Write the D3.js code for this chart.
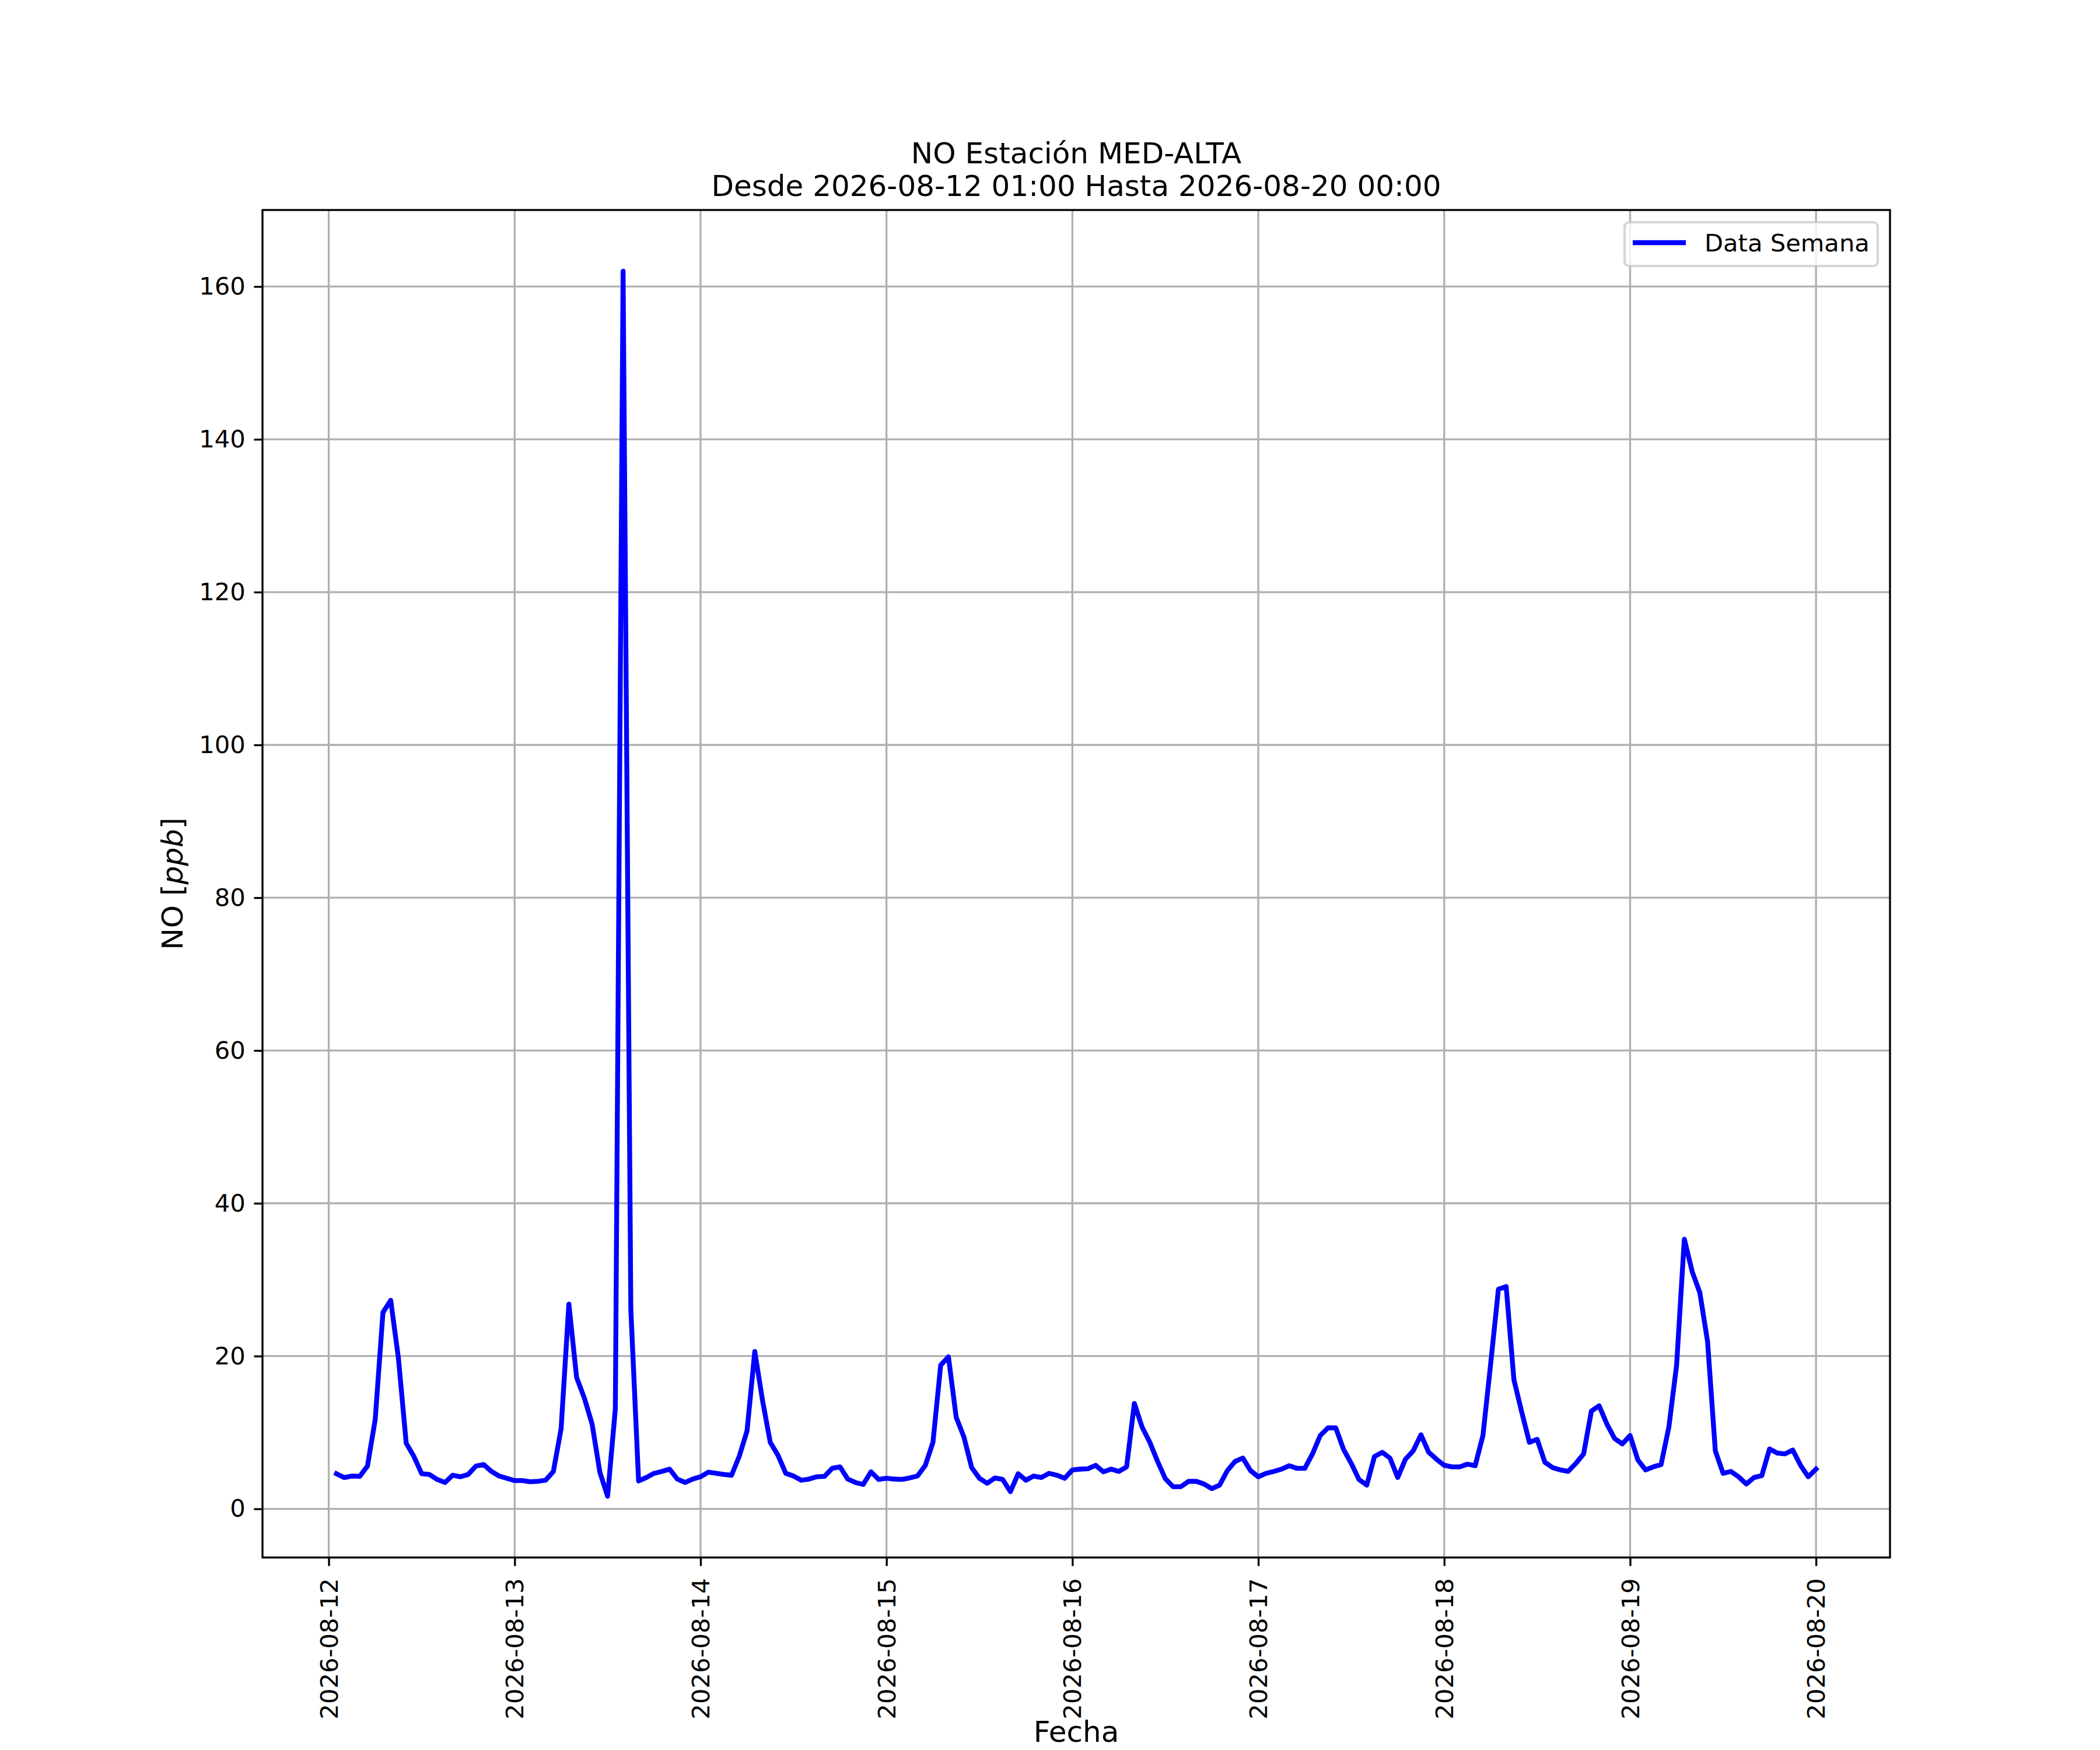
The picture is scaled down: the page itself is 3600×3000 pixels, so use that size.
<!DOCTYPE html>
<html>
<head>
<meta charset="utf-8">
<script src="https://cdn.jsdelivr.net/npm/d3@7"></script>
<style>
  body { margin: 0; background: white; }
  text { font-family: "DejaVu Sans", sans-serif; }
</style>
</head>
<body>
<div id="chart_container"></div>
<script>
// Data: hourly NO values (ppb), first reading 2026-08-12 01:00
var start_time = "2026-08-12T01:00:00Z"
var day_12 = [4.6, 4.1, 4.3, 4.25, 5.6, 11.7, 25.7, 27.3, 19.7, 8.6, 6.85, 4.6, 4.5, 3.85, 3.45, 4.4, 4.2, 4.5, 5.6, 5.8, 4.9, 4.3, 4.0, 3.7]
var day_13 = [3.7, 3.55, 3.6, 3.75, 4.9, 10.5, 26.8, 17.2, 14.5, 11.1, 4.8, 1.65, 13.1, 162.0, 26.1, 3.65, 4.1, 4.65, 4.9, 5.2, 3.9, 3.45, 3.9, 4.2]
var day_14 = [4.8, 4.65, 4.5, 4.4, 6.9, 10.2, 20.6, 14.2, 8.7, 7.0, 4.65, 4.3, 3.75, 3.9, 4.2, 4.25, 5.3, 5.5, 3.9, 3.45, 3.2, 4.85, 3.85, 4.0]
var day_15 = [3.9, 3.85, 4.05, 4.3, 5.65, 8.7, 18.8, 19.9, 12.0, 9.4, 5.4, 4.0, 3.35, 4.05, 3.85, 2.25, 4.6, 3.75, 4.3, 4.1, 4.65, 4.4, 4.0, 5.1]
var day_16 = [5.2, 5.25, 5.7, 4.85, 5.2, 4.9, 5.5, 13.8, 10.7, 8.7, 6.2, 3.95, 2.9, 2.9, 3.6, 3.6, 3.25, 2.65, 3.1, 5.0, 6.2, 6.65, 5.0, 4.2]
var day_17 = [4.65, 4.9, 5.2, 5.65, 5.3, 5.3, 7.2, 9.6, 10.6, 10.6, 7.8, 5.95, 3.85, 3.1, 6.85, 7.4, 6.65, 4.1, 6.5, 7.6, 9.7, 7.4, 6.5, 5.7]
var day_18 = [5.5, 5.5, 5.85, 5.65, 9.6, 19.0, 28.75, 29.1, 16.9, 12.7, 8.7, 9.1, 6.1, 5.4, 5.1, 4.9, 5.95, 7.2, 12.8, 13.5, 11.1, 9.2, 8.5, 9.6]
var day_19 = [6.4, 5.1, 5.5, 5.8, 10.7, 18.8, 35.3, 31.1, 28.3, 21.9, 7.6, 4.65, 4.9, 4.2, 3.25, 4.1, 4.35, 7.85, 7.3, 7.2, 7.7, 5.7, 4.2, 5.2]

var y_ticks = [0, 20, 40, 60, 80, 100, 120, 140, 160]
var title_lines = ["NO Estación MED-ALTA", "Desde 2026-08-12 01:00 Hasta 2026-08-20 00:00"]
var legend_label = "Data Semana"

var y_data = [].concat(day_12, day_13, day_14, day_15, day_16, day_17, day_18, day_19)
var t0 = new Date(start_time)
var x_data = y_data.map(function(d, i) { return d3.utcHour.offset(t0, i) })

// Figure dimensions (12x10 in at 300 dpi)
var width = 3600
var height = 3000
var margin = {top: 360, right: 360, bottom: 330, left: 450}
var plot_w = width - margin.left - margin.right
var plot_h = height - margin.top - margin.bottom
var pt = 300 / 72

// Scales, padded 5% like matplotlib
var x_ext = d3.extent(x_data)
var x_pad = (x_ext[1] - x_ext[0]) * 0.05
var x_scale = d3.scaleUtc()
    .domain([new Date(+x_ext[0] - x_pad), new Date(+x_ext[1] + x_pad)])
    .range([0, plot_w])

var y_ext = d3.extent(y_data)
var y_pad = (y_ext[1] - y_ext[0]) * 0.05
var y_scale = d3.scaleLinear()
    .domain([y_ext[0] - y_pad, y_ext[1] + y_pad])
    .range([plot_h, 0])

var x_ticks = x_scale.ticks(d3.utcDay.every(1))

var svg = d3.select("#chart_container")
    .append("svg")
    .attr("width", width)
    .attr("height", height)
    .style("background-color", "white")

var chart = svg.append("g")
    .attr("transform", "translate(" + margin.left + "," + margin.top + ")")

// Grid
chart.append("g").selectAll("line")
    .data(x_ticks)
    .enter()
    .append("line")
    .attr("x1", function(d) { return x_scale(d) })
    .attr("x2", function(d) { return x_scale(d) })
    .attr("y1", 0)
    .attr("y2", plot_h)
    .attr("stroke", "#b0b0b0")
    .attr("stroke-width", 0.8 * pt)

chart.append("g").selectAll("line")
    .data(y_ticks)
    .enter()
    .append("line")
    .attr("x1", 0)
    .attr("x2", plot_w)
    .attr("y1", function(d) { return y_scale(d) })
    .attr("y2", function(d) { return y_scale(d) })
    .attr("stroke", "#b0b0b0")
    .attr("stroke-width", 0.8 * pt)

// Data line
var line = d3.line()
    .x(function(d, i) { return x_scale(x_data[i]) })
    .y(function(d) { return y_scale(d) })

chart.append("path")
    .datum(y_data)
    .attr("d", line)
    .attr("fill", "none")
    .attr("stroke", "#0000ff")
    .attr("stroke-width", 2 * pt)
    .attr("stroke-linejoin", "round")
    .attr("stroke-linecap", "square")

// Spines
chart.append("rect")
    .attr("width", plot_w)
    .attr("height", plot_h)
    .attr("fill", "none")
    .attr("stroke", "black")
    .attr("stroke-width", 0.8 * pt)

// Axes
var x_axis = d3.axisBottom(x_scale)
    .tickValues(x_ticks)
    .tickFormat(d3.utcFormat("%Y-%m-%d"))
    .tickSize(3.5 * pt)
    .tickSizeOuter(0)

var y_axis = d3.axisLeft(y_scale)
    .tickValues(y_ticks)
    .tickSize(3.5 * pt)
    .tickPadding(3.5 * pt)
    .tickSizeOuter(0)

var gx = chart.append("g")
    .attr("transform", "translate(0," + plot_h + ")")
    .call(x_axis)
gx.select(".domain").remove()
gx.selectAll(".tick line").attr("stroke", "black").attr("stroke-width", 0.8 * pt)
gx.selectAll(".tick text")
    .attr("transform", "rotate(-90)")
    .attr("x", -8.5 * pt)
    .attr("y", 0)
    .attr("dy", "0.35em")
    .style("text-anchor", "end")
    .style("font-family", "DejaVu Sans")
    .style("font-size", (10 * pt) + "px")
    .attr("fill", "black")

var gy = chart.append("g")
    .call(y_axis)
gy.select(".domain").remove()
gy.selectAll(".tick line").attr("stroke", "black").attr("stroke-width", 0.8 * pt)
gy.selectAll(".tick text")
    .style("font-family", "DejaVu Sans")
    .style("font-size", (10 * pt) + "px")
    .attr("fill", "black")

// Axis labels
svg.append("text")
    .attr("x", margin.left + plot_w / 2)
    .attr("y", 2986)
    .style("text-anchor", "middle")
    .style("font-size", (12 * pt) + "px")
    .text("Fecha")

var ylab = svg.append("text")
    .attr("transform", "translate(313," + (margin.top + plot_h / 2) + ") rotate(-90)")
    .style("text-anchor", "middle")
    .style("font-size", (12 * pt) + "px")
ylab.append("tspan").text("NO [")
ylab.append("tspan").style("font-style", "italic").text("ppb")
ylab.append("tspan").text("]")

// Title
svg.append("g").selectAll("text")
    .data(title_lines)
    .enter()
    .append("text")
    .attr("x", margin.left + plot_w / 2)
    .attr("y", function(d, i) { return 280 + i * 56 })
    .style("text-anchor", "middle")
    .style("font-size", (12 * pt) + "px")
    .text(function(d) { return d })

// Legend
var legend = svg.append("g")
    .attr("transform", "translate(" + (margin.left + plot_w) + "," + margin.top + ")")

legend.append("rect")
    .attr("x", -455)
    .attr("y", 21)
    .attr("width", 434)
    .attr("height", 75)
    .attr("rx", 8)
    .attr("fill", "white")
    .attr("fill-opacity", 0.8)
    .attr("stroke", "#cccccc")
    .attr("stroke-opacity", 0.8)
    .attr("stroke-width", 1 * pt)

legend.append("line")
    .attr("x1", -441)
    .attr("x2", -350)
    .attr("y1", 56)
    .attr("y2", 56)
    .attr("stroke", "#0000ff")
    .attr("stroke-width", 2 * pt)

legend.append("text")
    .attr("x", -318)
    .attr("y", 71)
    .style("font-size", (10 * pt) + "px")
    .text(legend_label)
</script>
</body>
</html>
